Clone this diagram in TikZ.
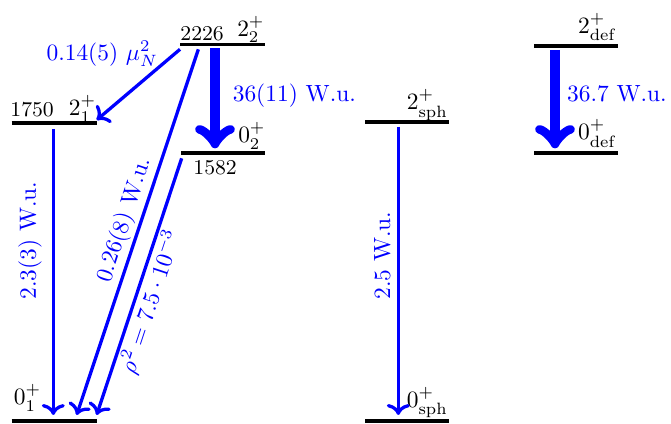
\documentclass[tikz,border=0pt]{standalone}
\usepackage{amsmath,amssymb}
\usetikzlibrary{arrows.meta}

\begin{document}
\begin{tikzpicture}[
  level/.style={black, line width=1.6pt},
  trans/.style={blue, line width=1.4pt, ->},
  strong/.style={blue, line width=4.6pt, -{to[scale=0.65]}},
  spin/.style={black, inner sep=0pt},
  energy/.style={black, font=\small, inner sep=0pt},
  rate/.style={blue, inner sep=0pt},
]
\useasboundingbox (0,0) rectangle (10.065,6.36);

% ===== Experimental levels =====
\draw[level] (0.175,0.05) -- (1.45,0.05);     % 0_1
\draw[level] (0.175,4.51) -- (1.45,4.51);     % 2_1
\draw[level] (2.715,4.06) -- (3.975,4.06);    % 0_2
\draw[level] (2.70,5.6925) -- (3.975,5.6925); % 2_2

% Level labels
\node[spin, anchor=base west] (s01) at (0.20,0.285) {$0^+_1$};
\node[energy, anchor=base west] (e21) at (0.15,4.61) {1750};
\node[spin, anchor=base east] (s21) at (1.45,4.62) {$2^+_1$};
\node[energy, anchor=base west] (e02) at (2.895,3.735) {1582};
\node[spin, anchor=base east] (s02) at (3.99,4.215) {$0^+_2$};
\node[energy, anchor=base west] (e22) at (2.70,5.745) {2226};
\node[spin, anchor=base east] (s22) at (3.975,5.81) {$2^+_2$};

% Arrow ends
\coordinate (m1a) at (2.70,5.62);   \coordinate (m1b) at (1.45,4.56);
\coordinate (e2a) at (3.225,5.635); \coordinate (e2b) at (3.225,4.135);
\coordinate (g1a) at (0.80,4.425);  \coordinate (g1b) at (0.80,0.135);
\coordinate (g2a) at (2.975,5.62);  \coordinate (g2b) at (1.15,0.135);
\coordinate (e0a) at (2.725,3.985); \coordinate (e0b) at (1.45,0.135);

% Transitions
\draw[trans] (m1a) -- (m1b);
\node[rate, anchor=base east] (lmu) at (2.375,5.4525) {0.14(5) $\mu_N^2$};

\draw[strong] (e2a) -- (e2b);
\node[rate, anchor=base west] (l22) at (3.485,4.835) {36(11) W.u.};

\draw[trans] (g1a) -- (g1b);
\node[rate, rotate=90, anchor=base west] (l21) at (0.54,1.86) {2.3(3) W.u.};

\draw[trans] (g2a) -- node[rate, sloped, above, inner sep=1pt, pos=0.48] (l20) {0.26(8) W.u.} (g2b);

\draw[trans] (e0a) -- node[rate, sloped, below, inner sep=1pt, pos=0.54] (l00) {$\rho^2 = 7.5\cdot 10^{-3}$} (e0b);

% ===== Spherical limit =====
\draw[level] (5.475,0.05) -- (6.735,0.05);
\draw[level] (5.475,4.525) -- (6.735,4.525);
\node[spin, anchor=base east] (ssph0) at (6.725,0.25) {$0^+_{\mathrm{sph}}$};
\node[spin, anchor=base east] (ssph2) at (6.725,4.71) {$2^+_{\mathrm{sph}}$};

\coordinate (sp2) at (5.975,4.46);
\coordinate (sp0) at (5.975,0.135);
\draw[trans] (sp2) -- (sp0);
\node[rate, rotate=90, anchor=base west] (lsph) at (5.85,1.86) {2.5 W.u.};

% ===== Deformed limit =====
\draw[level] (8.01,4.06) -- (9.27,4.06);
\draw[level] (8.01,5.67) -- (9.27,5.67);
\node[spin, anchor=base east] (sdef0) at (9.26,4.26) {$0^+_{\mathrm{def}}$};
\node[spin, anchor=base east] (sdef2) at (9.26,5.86) {$2^+_{\mathrm{def}}$};

\coordinate (df2) at (8.325,5.61);
\coordinate (df0) at (8.325,4.135);
\draw[strong] (df2) -- (df0);
\node[rate, anchor=base west] (ldef) at (8.50,4.835) {36.7 W.u.};

\end{tikzpicture}
\end{document}
